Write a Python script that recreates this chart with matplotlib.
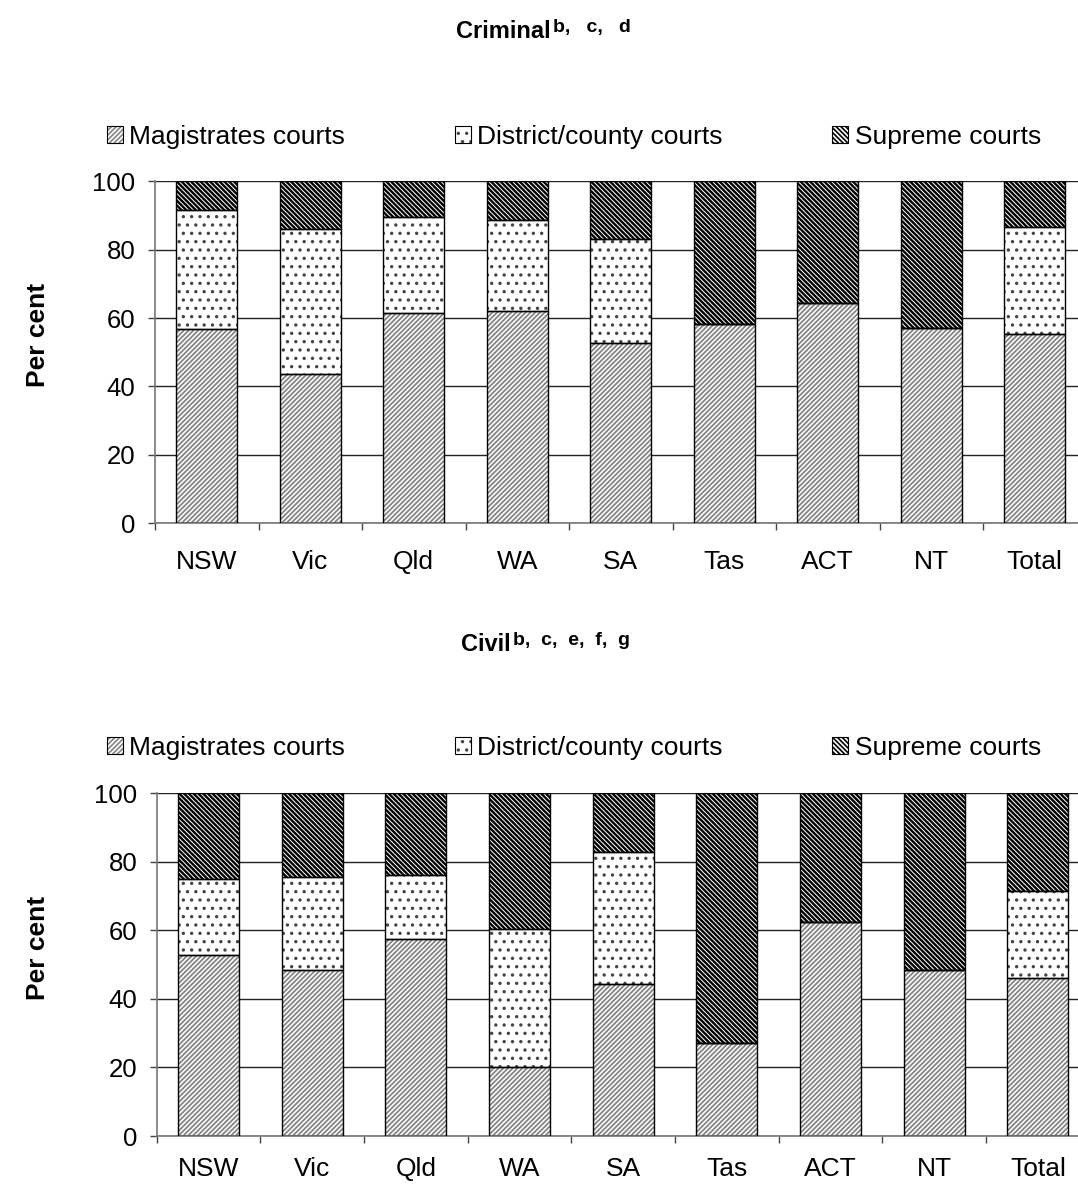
"""Share of court lodgments by court level, criminal and civil, by jurisdiction."""

import matplotlib

matplotlib.use("Agg")

import matplotlib.pyplot as plt
import numpy as np
from matplotlib.legend_handler import HandlerTuple
from matplotlib.patches import Patch

plt.rcParams["font.family"] = ["Liberation Sans", "DejaVu Sans"]
plt.rcParams["hatch.linewidth"] = 1.2

JURISDICTIONS = ["NSW", "Vic", "Qld", "WA", "SA", "Tas", "ACT", "NT", "Total"]
SERIES = ["Magistrates courts", "District/county courts", "Supreme courts"]

# Per cent of lodgments, criminal
criminal_magistrates = [56.7, 43.6, 61.5, 62.1, 52.8, 58.4, 64.5, 57.1, 55.3]
criminal_district = [35.0, 42.4, 28.1, 26.5, 30.4, 0.0, 0.0, 0.0, 31.4]
criminal_supreme = [8.3, 14.0, 10.4, 11.4, 16.8, 41.6, 35.5, 42.9, 13.3]

# Per cent of lodgments, civil
civil_magistrates = [52.7, 48.5, 57.4, 20.0, 44.4, 27.0, 62.5, 48.4, 46.1]
civil_district = [22.4, 27.1, 18.7, 40.3, 38.4, 0.0, 0.0, 0.0, 25.4]
civil_supreme = [24.9, 24.4, 23.9, 39.7, 17.2, 73.0, 37.5, 51.6, 28.5]

W, H = 1078, 1184
STYLES = [
    {"hatch": "/" * 7, "edgecolor": "#858585"},
    {"hatch": "..", "edgecolor": "#444444"},
    {"hatch": "\\" * 7, "edgecolor": "black"},
]
HATCH_WIDTHS = [1.3, 1.2, 1.7]
BAR_WIDTH = 0.59
FONT_SIZE = 19


def hatched_patch(patch, hatch_width):
    if hasattr(patch, "set_hatch_linewidth"):
        patch.set_hatch_linewidth(hatch_width)
    return patch


def draw_panel(fig, rect, series_values, title, sup, title_x, title_y, legend_y,
               label_y, label_pad):
    axis = fig.add_axes(rect)
    x = np.arange(len(JURISDICTIONS))
    bottom = np.zeros(len(JURISDICTIONS))
    for values, style, hatch_width in zip(series_values, STYLES, HATCH_WIDTHS):
        values = np.array(values)
        bars = axis.bar(x, values, BAR_WIDTH, bottom=bottom, color="white",
                        linewidth=0, zorder=2, **style)
        for bar in bars:
            hatched_patch(bar, hatch_width)
        axis.bar(x, values, BAR_WIDTH, bottom=bottom, fill=False,
                 edgecolor="black", linewidth=1.0, zorder=3)
        bottom += values

    axis.set_xlim(-0.5, len(JURISDICTIONS) - 0.5)
    axis.set_ylim(0, 100)
    axis.set_yticks(range(0, 101, 20))
    axis.set_xticks(np.arange(-0.5, len(JURISDICTIONS)), labels=[])
    axis.set_xticks(x, labels=JURISDICTIONS, minor=True)
    axis.tick_params(axis="x", which="major", length=5, width=1, color="#444444")
    axis.tick_params(axis="x", which="minor", length=0, pad=label_pad,
                     labelsize=FONT_SIZE)
    axis.tick_params(axis="y", length=5, width=1, color="#444444", pad=9,
                     labelsize=FONT_SIZE - 0.5)
    axis.yaxis.grid(True, color="#222222", linewidth=1.0, zorder=0)
    axis.set_axisbelow(True)
    for side in ["top", "right"]:
        axis.spines[side].set_visible(False)
    for side in ["left", "bottom"]:
        axis.spines[side].set_color("#777777")
        axis.spines[side].set_linewidth(1.2)

    handles = []
    for style, hatch_width in zip(STYLES, HATCH_WIDTHS):
        fill = hatched_patch(Patch(facecolor="white", linewidth=0, **style), hatch_width)
        outline = Patch(fill=False, edgecolor="black", linewidth=0.8)
        handles.append((fill, outline))
    fig.legend(handles, SERIES, loc="center left",
               bbox_to_anchor=(107 / W, 1 - legend_y / H), ncol=3, frameon=False,
               fontsize=FONT_SIZE, handlelength=0.6, handleheight=0.6,
               handletextpad=0.25, columnspacing=4.15, borderpad=0,
               borderaxespad=0, handler_map={tuple: HandlerTuple(ndivide=1, pad=0)})

    fig.text(title_x / W, 1 - title_y / H, title, ha="right", va="baseline",
             fontsize=17, fontweight="bold")
    fig.text((title_x + 2) / W, 1 - (title_y - 6) / H, sup, ha="left",
             va="baseline", fontsize=14, fontweight="bold")
    fig.text(38 / W, 1 - label_y / H, "Per cent", rotation=90, ha="center",
             va="center", fontsize=FONT_SIZE, fontweight="bold")
    return axis


fig = plt.figure(figsize=(W / 100, H / 100), dpi=100)
draw_panel(fig, [155 / W, 1 - 523.3 / H, 931.5 / W, 342 / H],
           [criminal_magistrates, criminal_district, criminal_supreme],
           "Criminal", "b,   c,   d", 551, 38, 137, 335, 19)
draw_panel(fig, [156.7 / W, 1 - 1136 / H, 933 / W, 342.7 / H],
           [civil_magistrates, civil_district, civil_supreme],
           "Civil", "b,  c,  e,  f,  g", 511, 651, 748, 948, 15)
fig.savefig("out.png", dpi=100)
